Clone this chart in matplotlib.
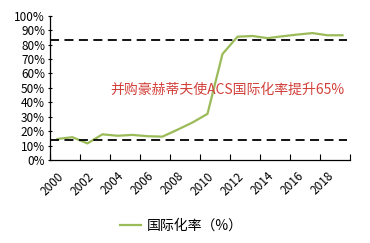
import numpy as np
import matplotlib.pyplot as plt
from matplotlib.ticker import FixedLocator, FuncFormatter

plt.rcParams['font.family'] = ['Noto Sans CJK SC', 'DejaVu Sans']

# --- dados ---
anos = list(range(2000, 2020))
taxa = [14.6, 15.8, 11.5, 17.8, 16.8, 17.4, 16.5, 16.2, 21.0, 26.0,
        32.0, 73.5, 85.5, 86.0, 84.5, 85.8, 87.0, 88.0, 86.5, 86.5]
nivel_antes = 14.0
nivel_depois = 83.5
anotacao = '并购豪赫蒂夫使ACS国际化率提升65%'
legenda = '国际化率（%）'

fig = plt.figure(figsize=(3.7, 2.43), dpi=100)
ax = fig.add_axes([0.135, 0.3416, 0.811, 0.5934])

x = np.arange(len(anos))
ax.plot(x, taxa, color='#9BBB59', lw=1.6, label=legenda)
ax.axhline(nivel_antes, xmin=0, xmax=0.99, color='black', lw=1.3, ls=(0, (5, 3)))
ax.axhline(nivel_depois, xmin=0, xmax=0.99, color='black', lw=1.3, ls=(0, (5, 3)))

ax.text(11.33, 49, anotacao, color='#D2403A', fontsize=10,
        ha='center', va='center')

ax.set_xlim(-0.5, len(anos) - 0.5)
ax.set_ylim(0, 100)
ax.set_yticks(np.arange(0, 101, 10))
ax.yaxis.set_major_formatter(FuncFormatter(lambda v, p: f'{int(v)}%'))

ax.set_xticks(x[::2])
ax.set_xticklabels([str(a) for a in anos[::2]], rotation=45,
                   ha='right', va='top', rotation_mode='anchor')
ax.xaxis.set_minor_locator(FixedLocator(np.arange(-0.5, len(anos), 2)))
ax.tick_params(axis='x', which='major', length=0, pad=7, labelsize=8.5)
ax.tick_params(axis='x', which='minor', length=4, direction='in', width=0.8)
ax.tick_params(axis='y', length=3, width=0.8, direction='inout',
               labelsize=8.5, pad=2)

for s in ['top', 'right']:
    ax.spines[s].set_visible(False)
for s in ['left', 'bottom']:
    ax.spines[s].set_linewidth(0.9)

fig.legend(loc='center', bbox_to_anchor=(0.49, 0.072), frameon=False,
           fontsize=10, handlelength=1.5, handletextpad=0.4)

fig.savefig('out.png', dpi=100)
